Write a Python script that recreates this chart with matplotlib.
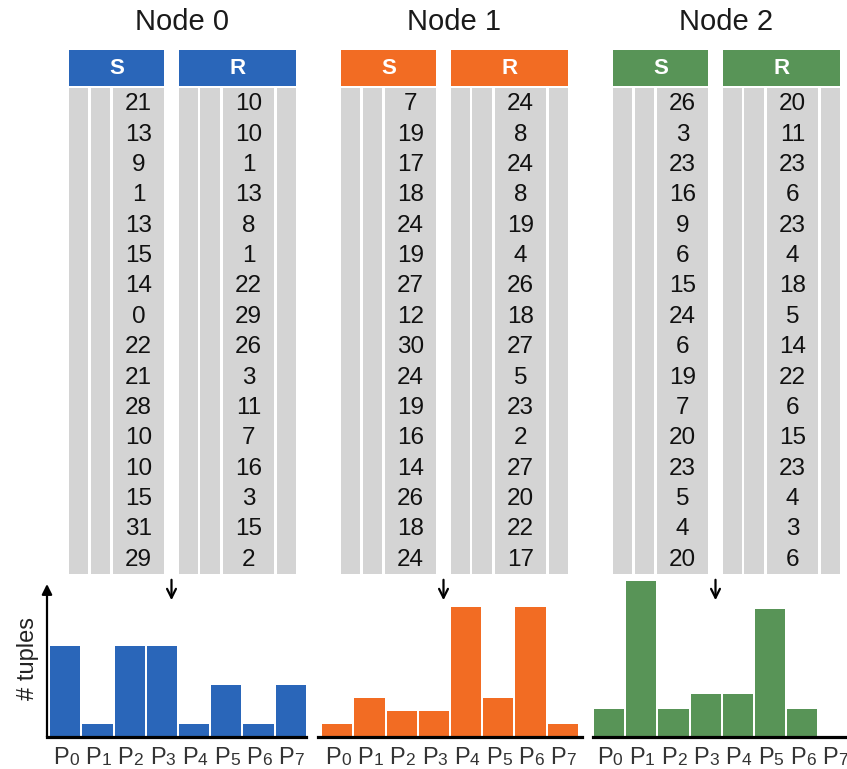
import matplotlib
matplotlib.use('Agg')
import matplotlib.pyplot as plt
from matplotlib.patches import Rectangle

matplotlib.rcParams['font.family'] = ['Liberation Sans', 'DejaVu Sans']

# ---- data ----
nodes = ['Node 0', 'Node 1', 'Node 2']
colors = ['#2a66b9', '#f26c23', '#589457']

s_node0 = [21, 13, 9, 1, 13, 15, 14, 0, 22, 21, 28, 10, 10, 15, 31, 29]
r_node0 = [10, 10, 1, 13, 8, 1, 22, 29, 26, 3, 11, 7, 16, 3, 15, 2]
s_node1 = [7, 19, 17, 18, 24, 19, 27, 12, 30, 24, 19, 16, 14, 26, 18, 24]
r_node1 = [24, 8, 24, 8, 19, 4, 26, 18, 27, 5, 23, 2, 27, 20, 22, 17]
s_node2 = [26, 3, 23, 16, 9, 6, 15, 24, 6, 19, 7, 20, 23, 5, 4, 20]
r_node2 = [20, 11, 23, 6, 23, 4, 18, 5, 14, 22, 6, 15, 23, 4, 3, 6]

partitions = ['0', '1', '2', '3', '4', '5', '6', '7']
tuples_node0 = [7, 1, 7, 7, 1, 4, 1, 4]
tuples_node1 = [1, 3, 2, 2, 10, 3, 10, 1]
tuples_node2 = [2, 11, 2, 3, 3, 9, 2, 0]

s_cols = [s_node0, s_node1, s_node2]
r_cols = [r_node0, r_node1, r_node2]
hists = [tuples_node0, tuples_node1, tuples_node2]

# ---- layout (pixels) ----
W, H = 847, 769
fig = plt.figure(figsize=(W / 100, H / 100), dpi=100)

top = fig.add_axes([0, 0, 1, 1])
top.set_xlim(0, W)
top.set_ylim(H, 0)
top.axis('off')

node_x = [69, 341, 613]
gray = '#d4d4d4'
hdr_top, hdr_bot = 50, 86
body_top, body_bot = 88, 574
row_h = (body_bot - body_top) / 16
# sub-columns relative to node left edge; the value column is marked True
s_sub = [(0, 19, False), (22, 41, False), (44, 95, True)]
r_sub = [(110, 129, False), (131, 151, False), (154, 205, True), (208, 227, False)]

for k, x0 in enumerate(node_x):
    top.text(x0 + 113, 22, nodes[k], ha='center', va='center', fontsize=21, color='#1a1a1a')
    for name, sub, vals, (a, b) in (('S', s_sub, s_cols[k], (0, 95)), ('R', r_sub, r_cols[k], (110, 227))):
        top.add_patch(Rectangle((x0 + a, hdr_top), b - a, hdr_bot - hdr_top, color=colors[k], lw=0))
        top.text(x0 + (a + b) / 2, (hdr_top + hdr_bot) / 2 + 1, name, ha='center', va='center',
                 fontsize=16, fontweight='bold', color='white')
        for c0, c1, is_val in sub:
            top.add_patch(Rectangle((x0 + c0, body_top), c1 - c0, body_bot - body_top, color=gray, lw=0))
            if is_val:
                for i, v in enumerate(vals):
                    top.text(x0 + (c0 + c1) / 2, body_top + (i + 0.5) * row_h + 1, str(v),
                             ha='center', va='center', fontsize=17.5, color='#111111')
    top.annotate('', xy=(x0 + 102.5, 603), xytext=(x0 + 102.5, 577),
                 arrowprops=dict(arrowstyle='->', lw=1.6, color='black', mutation_scale=16))

# ---- histograms ----
base_y = 737
ax_h = 157
unit_w = 32.2
hist_left = [47, 318, 593]
hist_xlim = [(-0.57, 7.48), (-0.6, 7.6), (-0.5, 7.8)]
px_per_tuple = [13.0, 13.0, 14.2]

for k in range(3):
    lo, hi = hist_xlim[k]
    width_px = (hi - lo) * unit_w
    ax = fig.add_axes([hist_left[k] / W, (H - base_y) / H, width_px / W, ax_h / H])
    ax.bar(range(8), hists[k], width=0.94, color=colors[k], zorder=2)
    ax.set_xlim(lo, hi)
    ax.set_ylim(0, ax_h / px_per_tuple[k])
    for sp in ['top', 'right', 'left']:
        ax.spines[sp].set_visible(False)
    ax.spines['bottom'].set_linewidth(2.3)
    ax.spines['bottom'].set_zorder(3)
    ax.set_xticks([])
    ax.set_yticks([])
    ax.patch.set_alpha(0)
    # tick labels "P" with a large subscript digit
    for i, p in enumerate(partitions):
        ax.annotate('P', xy=(i, 0), xycoords=('data', 'axes fraction'), xytext=(2.4, -7),
                    textcoords='offset points', ha='right', va='top', fontsize=17,
                    color='#333333', annotation_clip=False)
        ax.annotate(p, xy=(i, 0), xycoords=('data', 'axes fraction'), xytext=(2.6, -11.5),
                    textcoords='offset points', ha='left', va='top', fontsize=12.5,
                    color='#333333', annotation_clip=False)
    if k == 0:
        ax.annotate('', xy=(0, (base_y - 584) / ax_h), xytext=(0, 0), xycoords='axes fraction',
                    arrowprops=dict(arrowstyle='-|>', lw=1.6, color='black', mutation_scale=15,
                                    shrinkA=0, shrinkB=0))
        ax.set_ylabel('# tuples', fontsize=17, color='#222222', labelpad=6)

fig.savefig('out.png', dpi=100)
